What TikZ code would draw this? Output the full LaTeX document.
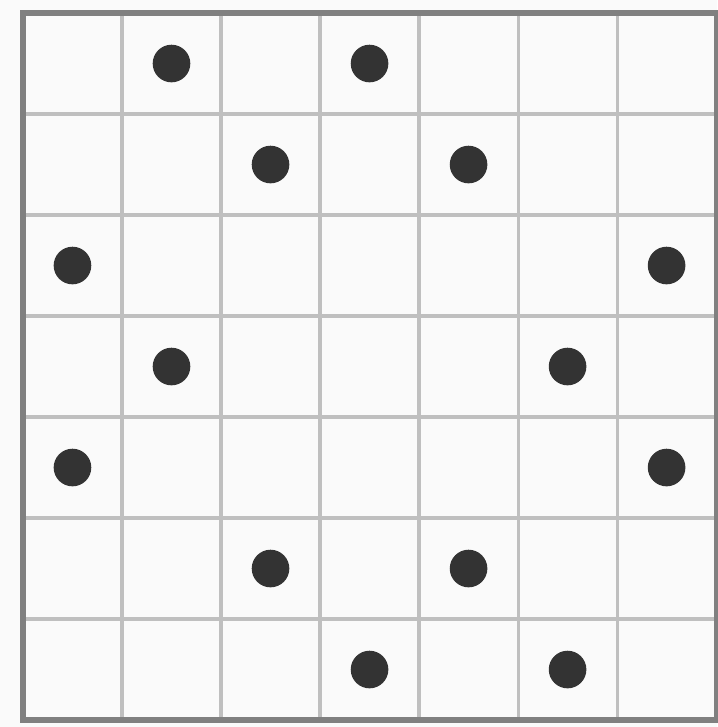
\documentclass[tikz,border=0pt]{standalone}
\usepackage{tikz}
\usetikzlibrary{positioning}

\begin{document}
\begin{tikzpicture}[
  x=1cm,y=1.02cm,
  cellline/.style={draw=black!25,line width=0.9pt},
  frame/.style={draw=black!50,line width=1.5pt},
  dot/.style={circle,fill=black!80,inner sep=0pt,minimum size=0.38cm}]
\useasboundingbox[fill=black!2] (-0.232,-0.069) rectangle (7.01,7.129);
\foreach \k in {1,...,6} {
  \draw[cellline] (\k,0) -- (\k,7);
  \draw[cellline] (0,\k) -- (7,\k);
}
\draw[frame] (0,0) rectangle (7,7);
\foreach \c/\r [count=\i] in {1/0,3/0,2/1,4/1,0/2,6/2,1/3,5/3,0/4,6/4,2/5,4/5,3/6,5/6} {
  \node[dot] (d\i) at (\c+0.5,6.5-\r) {};
}
\end{tikzpicture}
\end{document}
